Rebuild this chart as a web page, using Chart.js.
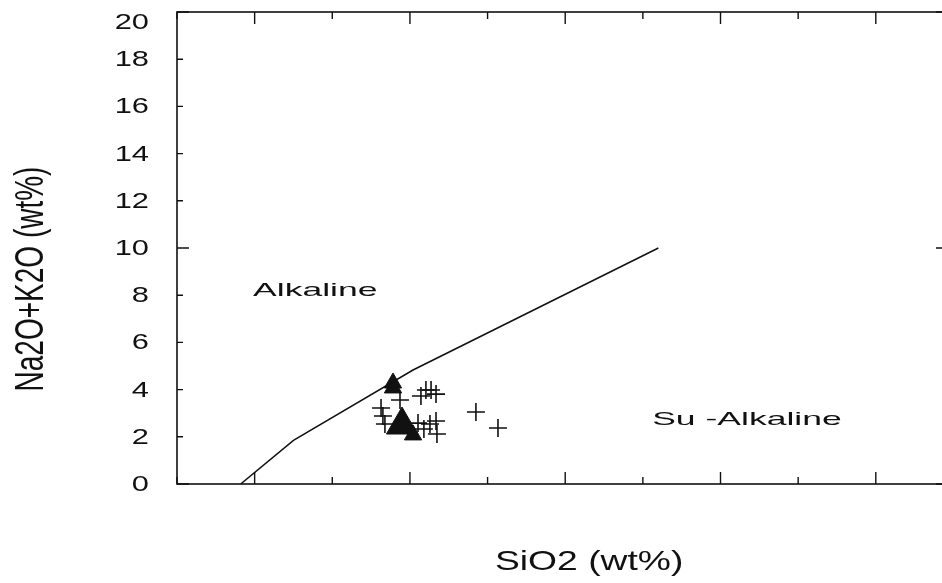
<!DOCTYPE html>
<html>
<head>
<meta charset="utf-8">
<script src="https://cdn.jsdelivr.net/npm/chart.js@4/dist/chart.umd.min.js"></script>
<style>
  html, body { margin: 0; padding: 0; background: #fff; overflow: hidden; width: 942px; height: 583px; }
  #wrap { width: 950px; height: 583px; }
  canvas { display: block; }
</style>
</head>
<body>
<div id="wrap"><canvas id="tas" width="950" height="583" style="width:950px;height:583px"></canvas></div>
<script>
// Alkaline / sub-alkaline dividing line (Irvine & Baragar)
const boundarySiO2   = [39.1, 42.5, 50.2, 66.0];
const boundaryAlkali = [0.0, 1.85, 4.83, 10.0];

// Samples plotted as filled triangles
const triangleSiO2   = [48.91, 48.91, 49.49, 50.20];
const triangleAlkali = [4.28, 4.07, 2.50, 2.08];

// Samples plotted as crosses
const crossSiO2   = [48.14, 48.26, 48.39, 49.36, 50.71, 51.03, 51.36, 51.68, 50.52, 50.90, 51.29, 51.68, 51.74, 54.25, 55.67];
const crossAlkali = [3.22, 2.88, 2.54, 3.56, 3.73, 3.98, 3.98, 3.81, 2.58, 2.33, 2.54, 2.67, 2.12, 3.05, 2.37];

// Axis ticks and texts
const yTickValues = [0, 2, 4, 6, 8, 10, 12, 14, 16, 18, 20];
const xTickValues = [35, 40, 45, 50, 55, 60, 65, 70, 75, 80];
const xTitle = 'SiO2 (wt%)';
const yTitle = 'Na2O+K2O (wt%)';
const fieldLabels = [
  { text: 'Alkaline',     x: 39.9, y: 7.97 },
  { text: 'Su -Alkaline', x: 65.6, y: 2.5 }
];

const toPoints = (xs, ys) => xs.map((x, i) => ({ x, y: ys[i] }));
const INK = '#111';

// draws horizontally stretched text (wide face of the plotting package)
function wideText(ctx, str, x, y, sx, font, align, baseline) {
  ctx.save();
  ctx.translate(x, y);
  ctx.scale(sx, 1);
  ctx.font = font;
  ctx.textAlign = align;
  ctx.textBaseline = baseline;
  ctx.fillStyle = INK;
  ctx.fillText(str, 0, 0);
  ctx.restore();
}

const framePlugin = {
  id: 'frame',
  afterDraw(chart) {
    const { ctx, chartArea: a, scales: { x, y } } = chart;
    ctx.save();
    ctx.strokeStyle = INK;
    ctx.lineWidth = 1.6;
    ctx.strokeRect(a.left, a.top, a.right - a.left, a.bottom - a.top);

    // inward ticks on the x edges
    ctx.lineWidth = 1.4;
    xTickValues.forEach(v => {
      const px = x.getPixelForValue(v);
      const len = (v % 10 === 0) ? 12 : 7;
      ctx.beginPath();
      ctx.moveTo(px, a.bottom); ctx.lineTo(px, a.bottom - len);
      ctx.moveTo(px, a.top);    ctx.lineTo(px, a.top + len);
      ctx.stroke();
    });
    // inward ticks on the y edges
    yTickValues.forEach(v => {
      const py = y.getPixelForValue(v);
      const len = (v % 10 === 0) ? 12 : 6;
      ctx.beginPath();
      ctx.moveTo(a.left, py);  ctx.lineTo(a.left + len, py);
      ctx.moveTo(a.right, py); ctx.lineTo(a.right - len, py);
      ctx.stroke();
    });
    ctx.restore();

    // y tick labels
    yTickValues.forEach(v => {
      const py = Math.max(y.getPixelForValue(v) + 1, 23);
      wideText(ctx, String(v), a.left - 28, py, 1.4, '22px "Liberation Sans", Arial, sans-serif', 'right', 'middle');
    });

    // field names
    fieldLabels.forEach(l => {
      wideText(ctx, l.text, x.getPixelForValue(l.x), y.getPixelForValue(l.y), 1.92,
        '18.5px "Liberation Sans", Arial, sans-serif', 'left', 'alphabetic');
    });

    // axis titles
    wideText(ctx, xTitle, 495, 570, 1.33, '28px "Liberation Sans", Arial, sans-serif', 'left', 'alphabetic');
    ctx.save();
    ctx.translate(43, 279);
    ctx.scale(1.45, 1);
    ctx.rotate(-Math.PI / 2);
    ctx.font = '28px "Liberation Sans", Arial, sans-serif';
    ctx.textAlign = 'center';
    ctx.textBaseline = 'alphabetic';
    ctx.fillStyle = INK;
    ctx.fillText(yTitle, 0, 0);
    ctx.restore();
  }
};

new Chart(document.getElementById('tas'), {
  type: 'scatter',
  data: {
    datasets: [
      {
        type: 'line',
        data: toPoints(boundarySiO2, boundaryAlkali),
        borderColor: INK,
        borderWidth: 1.5,
        pointRadius: 0,
        tension: 0,
        fill: false
      },
      {
        data: toPoints(crossSiO2, crossAlkali),
        pointStyle: 'cross',
        pointRadius: 9,
        borderColor: INK,
        borderWidth: 1.6,
        backgroundColor: INK
      },
      {
        data: toPoints(triangleSiO2, triangleAlkali),
        pointStyle: 'triangle',
        pointRadius: [10, 10, 18, 10],
        borderColor: INK,
        borderWidth: 1,
        backgroundColor: INK
      }
    ]
  },
  options: {
    responsive: false,
    maintainAspectRatio: false,
    animation: false,
    events: [],
    layout: { autoPadding: false, padding: { left: 177, top: 12, right: 2, bottom: 99 } },
    plugins: { legend: { display: false }, tooltip: { enabled: false } },
    scales: {
      x: { type: 'linear', min: 35, max: 84.65, display: false },
      y: { type: 'linear', min: 0, max: 20, display: false }
    }
  },
  plugins: [framePlugin]
});
</script>
</body>
</html>
